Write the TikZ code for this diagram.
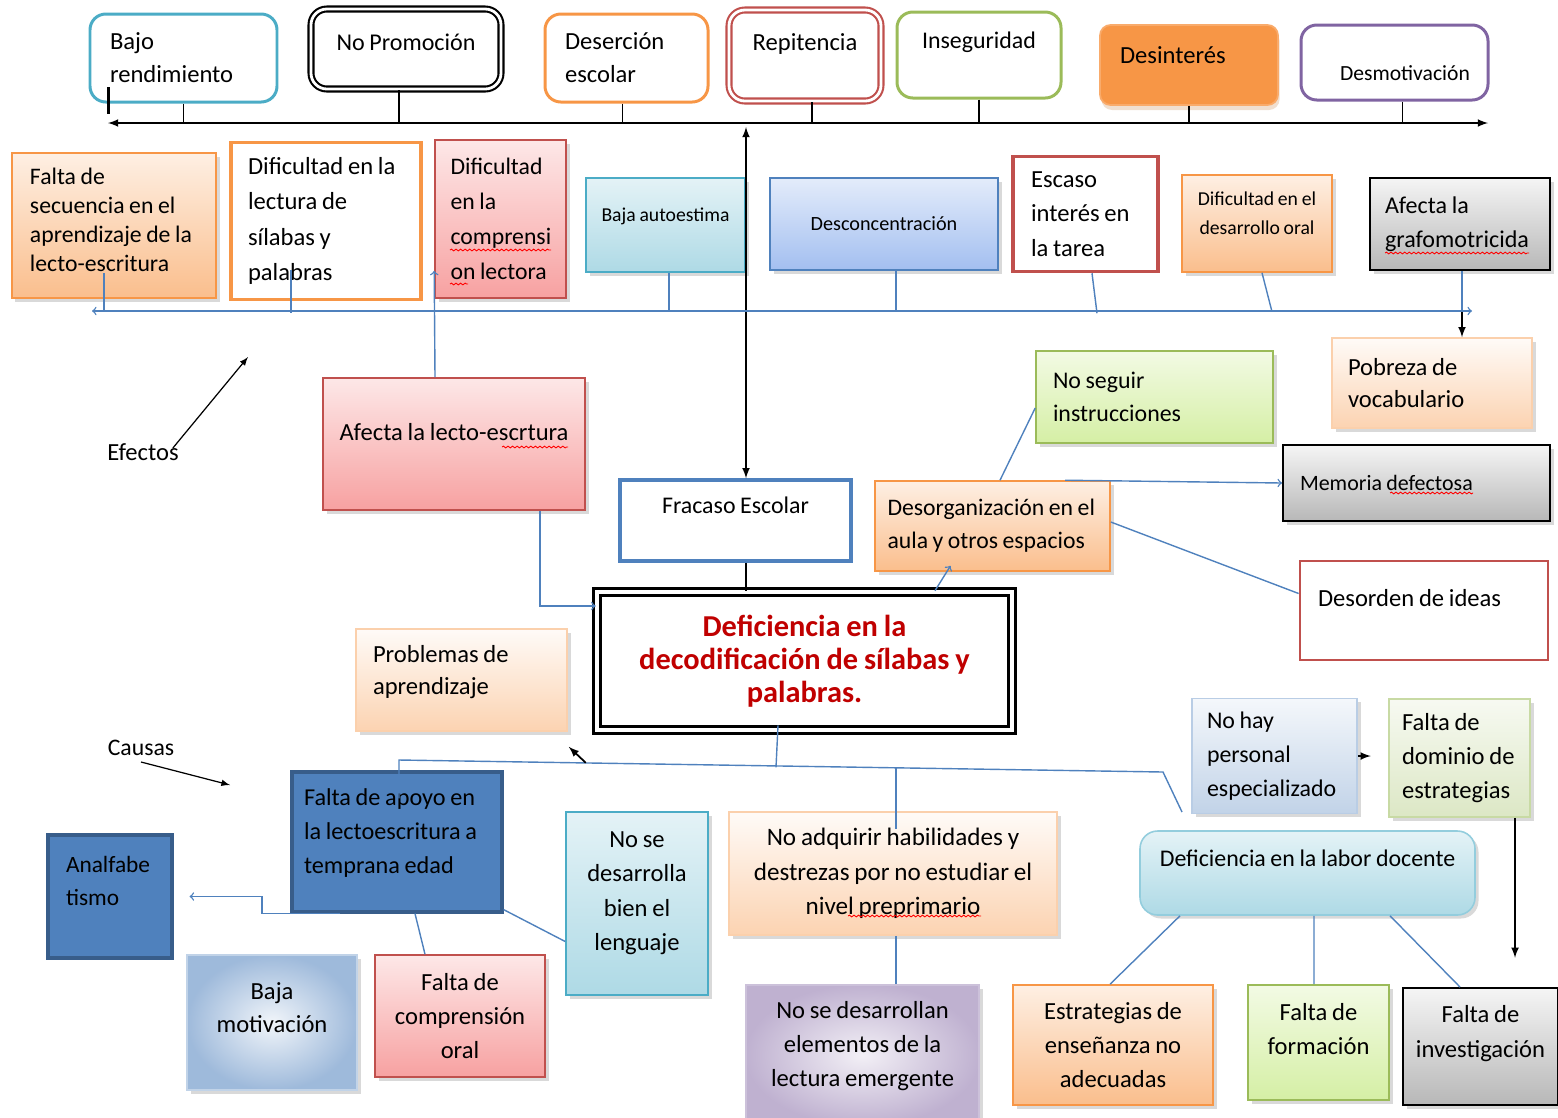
\documentclass[tikz,border=0pt]{standalone}
\usepackage{fontspec}
\setmainfont{Carlito}[WordSpace=0.85]
\usetikzlibrary{shadows,decorations.pathmorphing}

\definecolor{celesteb}{HTML}{4BACC6}
\definecolor{naranjab}{HTML}{F79646}
\definecolor{rojob}{HTML}{C0504D}
\definecolor{verdeb}{HTML}{9BBB59}
\definecolor{verdeclaro}{HTML}{D5EFA5}
\definecolor{moradob}{HTML}{8064A2}
\definecolor{azulb}{HTML}{4F81BD}
\definecolor{azulclaro}{HTML}{A3BFF0}
\definecolor{marinob}{HTML}{385D8A}
\definecolor{rosab}{HTML}{F7A1A1}
\definecolor{titulo}{HTML}{C00000}

\begin{document}
\begin{tikzpicture}[x=0.02cm, y=-0.02cm]

      \tikzset{
        sz/.style n args={2}{minimum width=#1*0.02cm, minimum height=#2*0.02cm},
        lt/.style={align=flush left, inner xsep=0pt, text width=#1*0.02cm},
        caja/.style={draw, rectangle, inner sep=2pt, align=center, font=\fontsize{14}{19.5}\selectfont},
        chica/.style={font=\fontsize{11.2}{16.5}\selectfont},
        apretada/.style={font=\fontsize{14}{18.7}\selectfont},
        sombra/.style={drop shadow={opacity=.3, shadow xshift=.07cm, shadow yshift=-.07cm}},
        efecto/.style={caja, rounded corners=9pt, line width=1.7pt, fill=white},
        naranja/.style={caja, sombra, draw=naranjab, line width=.9pt, top color=naranjab!15!white, bottom color=naranjab!62!white},
        naranjaclaro/.style={caja, sombra, draw=naranjab!45!white, line width=.9pt, top color=naranjab!4!white, bottom color=naranjab!42!white},
        rosa/.style={caja, sombra, draw=rojob, line width=.9pt, top color=rosab!25!white, bottom color=rosab},
        celeste/.style={caja, sombra, draw=celesteb, line width=.9pt, top color=celesteb!15!white, bottom color=celesteb!45!white},
        azul/.style={caja, sombra, draw=azulb, line width=.9pt, top color=azulclaro!30!white, bottom color=azulclaro},
        verde/.style={caja, sombra, draw=verdeb, line width=.9pt, top color=verdeclaro!30!white, bottom color=verdeclaro},
        verdepalido/.style={caja, sombra, draw=verdeb!55!white, line width=.9pt, top color=verdeb!8!white, bottom color=verdeb!35!white},
        gris/.style={caja, sombra, draw=black, line width=1.1pt, top color=black!4, bottom color=black!28},
        azulgris/.style={caja, sombra, draw=azulb!40!white, line width=.9pt, top color=azulb!6!white, bottom color=azulb!35!white},
        morado/.style={caja, sombra, draw=moradob!40!white, line width=.9pt, inner color=moradob!10!white, outer color=moradob!50!white},
        grisazul/.style={caja, sombra, draw=azulb!35!white, line width=.9pt, inner color=azulb!8!white, outer color=azulb!55!white},
        oscuro/.style={caja, fill=azulb, draw=marinob, line width=1.8pt},
        linea/.style={draw=azulb, line width=.8pt},
        eje/.style={draw=black, line width=1pt},
        corrector/.style={draw=red, line width=.5pt, decorate, decoration={snake, amplitude=.5pt, segment length=2.6pt}}
      }

      \useasboundingbox (0,0) rectangle (1558,1117);

% Efectos (fila de arriba)
      \node[efecto, draw=celesteb, apretada, sz={187}{88}, lt=147] (bajo) at (183.5,58) {Bajo\\rendimiento};
      \node[efecto, draw=black, double, double distance=1.6pt, line width=1.2pt, sz={190}{80}, text depth=.28cm, font=\fontsize{13.7}{16}\selectfont] (nopromo) at (406,49) {No Promoción};
      \node[efecto, draw=naranjab, apretada, sz={163}{88}, lt=123] (desercion) at (626.5,58) {Deserción\\escolar};
      \node[efecto, draw=rojob, double, double distance=1.6pt, line width=1.2pt, sz={152}{91}, text depth=.54cm] (repitencia) at (805,55.5) {Repitencia};
      \node[efecto, draw=verdeb, sz={164}{86}, text depth=.6cm, font=\fontsize{13.6}{16}\selectfont] (inseguridad) at (979,55) {Inseguridad};
      \node[caja, rounded corners=6pt, fill=naranjab, draw=naranjab!80!white, line width=1pt,
            drop shadow={shadow xshift=.03cm, shadow yshift=-.1cm, fill=brown!35, opacity=.7},
            sz={178}{80}, lt=138, text depth=.4cm] (desinteres) at (1189,65) {Desinterés};
      \node[efecto, draw=moradob, sz={187}{75}, lt=109, text height=.71cm, font=\fontsize{12.3}{16}\selectfont] (desmotivacion) at (1394.5,62.5) {Desmotivación};

	%Segunda fila
      \node[naranja, sz={204}{145}, lt=168, font=\fontsize{13.5}{16.6}\selectfont, text depth=1.97cm] (secuencia) at (114,225.5) {Falta de\\secuencia en el\\aprendizaje de la\\lecto-escritura};
      \node[caja, draw=naranjab, line width=1.8pt, fill=white, sz={190}{157}, lt=156, font=\fontsize{14}{20.2}\selectfont] (diflectura) at (326,221) {Dificultad en la\\lectura de\\sílabas y\\palabras};
      \node[rosa, sz={131}{158}, lt=100, font=\fontsize{13.5}{20}\selectfont] (comprension) at (500.5,219) {Dificultad\\en la\\comprensi\\on lectora};
      \node[celeste, chica, sz={159}{94}, text depth=.4cm] (autoestima) at (665.5,225) {Baja autoestima};
      \node[azul, chica, font=\fontsize{11.5}{16.5}\selectfont, sz={228}{92}] (desconcentracion) at (884,224) {Desconcentración};
      \node[caja, draw=rojob, line width=2pt, fill=white, sz={145}{115}, lt=109, font=\fontsize{14}{19.6}\selectfont] (escaso) at (1085.5,214) {Escaso\\interés en\\la tarea};
      \node[naranja, chica, sz={150}{97}, text depth=.4cm] (diforal) at (1257,223.5) {Dificultad en el\\desarrollo oral};
      \node[gris, sz={180}{92}, lt=150, font=\fontsize{13.7}{19.5}\selectfont] (grafomotricidad) at (1460,224) {Afecta la\\grafomotricida};

	%Centro
      \node[rosa, sz={262}{132}, text depth=.48cm] (afecta) at (454,444) {Afecta la lecto-escrtura};
      \node[caja, draw=azulb, line width=2pt, fill=white, sz={231}{81}, text depth=.62cm, font=\fontsize{13.6}{16}\selectfont] (fracaso) at (735.5,520.5) {Fracaso Escolar};
      \node[caja, double, line width=1.5pt, double distance=2.5pt, fill=white, text=titulo,
            font=\bfseries\fontsize{17.3}{18.8}\selectfont, sz={415}{138}] (problema) at (804.5,661) {Deficiencia en la\\decodificación de sílabas y\\palabras.};
      \node[verde, sz={237}{92}, lt=203, font=\fontsize{13.6}{18.7}\selectfont] (instrucciones) at (1154.5,397) {No seguir\\instrucciones};
      \node[naranja, sz={235}{90}, lt=210, font=\fontsize{13.5}{18.7}\selectfont] (desorganizacion) at (992.5,526) {Desorganización en el\\aula y otros espacios};
      \node[naranjaclaro, apretada, sz={200}{90}, lt=168] (pobreza) at (1432,383) {Pobreza de\\vocabulario};
      \node[gris, sz={267}{76}, lt=233, font=\fontsize{12.5}{16}\selectfont] (memoria) at (1416.5,483) {Memoria defectosa};
      \node[caja, draw=rojob, line width=1.6pt, fill=white, sz={248}{99}, lt=212, text depth=.5cm] (desorden) at (1424,610.5) {Desorden de ideas};
      \node[naranjaclaro, apretada, sz={211}{102}, lt=177, text depth=1.06cm] (problemas) at (461.5,680) {Problemas de\\aprendizaje};
      \node[font=\fontsize{14}{15}\selectfont] (efectos) at (143,452) {Efectos};
      \node[font=\fontsize{13.5}{15}\selectfont] (causas) at (141,748) {Causas};

	%Causas
      \node[oscuro, sz={210}{140}, lt=186, font=\fontsize{13.8}{19.3}\selectfont, text depth=1.78cm] (apoyo) at (397,842) {Falta de apoyo en\\la lectoescritura a\\temprana edad};
      \node[oscuro, sz={124}{123}, lt=88, font=\fontsize{13.3}{18.7}\selectfont, text depth=1.28cm] (analfabetismo) at (110,896.5) {Analfabe\\tismo};
      \node[grisazul, apretada, sz={170}{135}, text depth=.6cm] (motivacion) at (272,1022.5) {Baja\\motivación};
      \node[rosa, sz={170}{122}] (comprensionoral) at (460,1016) {Falta de\\comprensión\\oral};
      \node[celeste, sz={142}{183}, text depth=.5cm] (lenguaje) at (637,903.5) {No se\\desarrolla\\bien el\\lenguaje};
      \node[naranjaclaro, sz={328}{123}, font=\fontsize{14.3}{19.5}\selectfont] (habilidades) at (893,873.5) {No adquirir habilidades y\\destrezas por no estudiar el\\nivel preprimario};
      \node[morado, sz={233}{140}, text depth=.45cm] (emergente) at (862.5,1055) {No se desarrollan\\elementos de la\\lectura emergente};
      \node[celeste, rounded corners=10pt, draw=celesteb!60!white, sz={335}{84}, text depth=.6cm, font=\fontsize{13.6}{16}\selectfont] (docente) at (1307.5,873) {Deficiencia en la labor docente};
      \node[azulgris, sz={165}{115}, lt=135, font=\fontsize{13.6}{19.5}\selectfont] (personal) at (1274.5,756) {No hay\\personal\\especializado};
      \node[verdepalido, sz={141}{118}, lt=115] (dominio) at (1459.5,758) {Falta de\\dominio de\\estrategias};
      \node[naranja, sz={200}{120}] (estrategias) at (1113,1045) {Estrategias de\\enseñanza no\\adecuadas};
      \node[verde, sz={141}{115}, text depth=.55cm] (formacion) at (1318.5,1042.5) {Falta de\\formación};
      \node[gris, sz={155}{117}, text depth=.6cm] (investigacion) at (1480.5,1046.5) {Falta de\\investigación};

	%Subrayado del corrector
      \draw[corrector] ([shift={(-50.5,31)}]comprension.center) -- ++(101,0);
      \draw[corrector] ([shift={(-50.5,65)}]comprension.center) -- ++(18,0);
      \draw[corrector] ([shift={(48,3)}]afecta.center) -- ++(66,0);
      \draw[corrector] ([shift={(-75,29)}]grafomotricidad.center) -- ++(144,0);
      \draw[corrector] ([shift={(-26.5,10)}]memoria.center) -- ++(83,0);
      \draw[corrector] ([shift={(-45,42.5)}]habilidades.center) -- ++(133,0);

%Puntos libres
      \coordinate (ejeI) at (108,123);
      \coordinate (ejeD) at (1488,123);
      \coordinate (centro) at (746,127);
      \coordinate (azulI) at (92,311);
      \coordinate (azulD) at (1472,311);
      \coordinate (flechaE) at (248,357);
      \coordinate (flechaC) at (230,785);
      \coordinate (quiebre1) at (399,760);
      \coordinate (quiebre2) at (1163,772);
      \coordinate (quiebre3) at (1182,812);

%Conectores
	%Eje negro
      \draw[eje, latex-latex] (ejeI) -- (ejeD);
      \path[eje] (bajo.south) edge (bajo.south |- ejeI);
      \path[eje] ([shift={(-7,0)}]nopromo.south) edge ([shift={(-7,0)}]nopromo.south |- ejeI);
      \path[eje] ([shift={(-4,0)}]desercion.south) edge ([shift={(-4,0)}]desercion.south |- ejeI);
      \path[eje] ([shift={(7,0)}]repitencia.south) edge ([shift={(7,0)}]repitencia.south |- ejeI);
      \path[eje] (inseguridad.south) edge (inseguridad.south |- ejeI);
      \path[eje] (desinteres.south) edge (desinteres.south |- ejeI);
      \path[eje] ([shift={(8,0)}]desmotivacion.south) edge ([shift={(8,0)}]desmotivacion.south |- ejeI);
      \draw[line width=1.6pt] ([shift={(20,10)}]bajo.south west) -- ++(0,-27);
      \draw[eje, latex-latex] (centro) -- (centro |- fracaso.north);
      \path[eje] (centro |- fracaso.south) edge (centro |- problema.north);
	%Eje azul
      \draw[linea, <->] (azulI) -- (azulD);
      \draw[linea] ([shift={(-10,-26)}]secuencia.south) -- ++(0,39);
      \draw[linea] ([shift={(-35,-31)}]diflectura.south) -- ++(0,43);
      \draw[linea] ([shift={(3.5,0)}]autoestima.south) -- ++(0,39);
      \draw[linea] ([shift={(12,0)}]desconcentracion.south) -- ++(0,41);
      \draw[linea] ([shift={(6.5,0)}]escaso.south) -- ++(5,40);
      \draw[linea] ([shift={(5,0)}]diforal.south) -- ++(10,39);
      \draw[linea] ([shift={(2,0)}]grafomotricidad.south) -- ++(0,41);
      \draw[eje, -latex] ([shift={(2,41)}]grafomotricidad.south) -- ([shift={(30,0)}]pobreza.north);
      \draw[linea, ->] ([shift={(-19,0)}]afecta.north) -- ([shift={(0,-28)}]comprension.south west);
      \draw[eje, line width=.7pt, -latex] ([shift={(-12,-4)}]efectos.east) -- (flechaE);
	%Centro
      \draw[linea, ->] ([shift={(86,0)}]afecta.south) |- ([shift={(0,-55)}]problema.west);
      \draw[linea, ->] ([shift={(130.5,0)}]problema.north) -- ([shift={(-42,-6)}]desorganizacion.south);
      \path[linea] ([shift={(7.5,0)}]desorganizacion.north) edge ([shift={(0,11)}]instrucciones.west);
      \draw[linea, ->] ([shift={(72.5,0)}]desorganizacion.north) -- (memoria.west);
      \path[linea] ([shift={(0,-4)}]desorganizacion.east) edge ([shift={(0,-17)}]desorden.west);
	%Causas
      \draw[eje, line width=.7pt, -latex] (causas.south) -- (flechaC);
      \draw[linea] ([shift={(2,28)}]apoyo.north) -- (quiebre1) -- (quiebre2) -- (quiebre3);
      \draw[linea] ([shift={(-26.5,-6)}]problema.south) -- ++(-2,42);
      \draw[linea] ([shift={(3,-44)}]habilidades.north) -- ([shift={(3,18)}]habilidades.north);
      \path[linea] ([shift={(3,0)}]habilidades.south) edge ([shift={(3,0)}]habilidades.south |- emergente.north);
      \draw[eje, -latex] ([shift={(18,31)}]problemas.south east) -- ++(-17,-16);
      \draw[linea, ->] ([shift={(-57,0)}]apoyo.south) -- ++(-78,0) |- ([shift={(16,0)}]analfabetismo.east);
      \path[linea] ([shift={(18,0)}]apoyo.south) edge ([shift={(-35,0)}]comprensionoral.north);
      \path[linea] ([shift={(0,38)}]lenguaje.west) edge ([shift={(0,-4)}]apoyo.south east);
      \path[linea] ([shift={(-127.5,0)}]docente.south) edge ([shift={(-3,0)}]estrategias.north);
      \path[linea] ([shift={(6.5,0)}]docente.south) edge ([shift={(-4.5,0)}]formacion.north);
      \path[linea] ([shift={(82.5,0)}]docente.south) edge ([shift={(-20.5,0)}]investigacion.north);
      \draw[eje, -latex] (personal.east) -- ++(13,0);
      \draw[eje, -latex] ([shift={(55.5,0)}]dominio.south) -- ++(0,140);

\end{tikzpicture}
\end{document}
